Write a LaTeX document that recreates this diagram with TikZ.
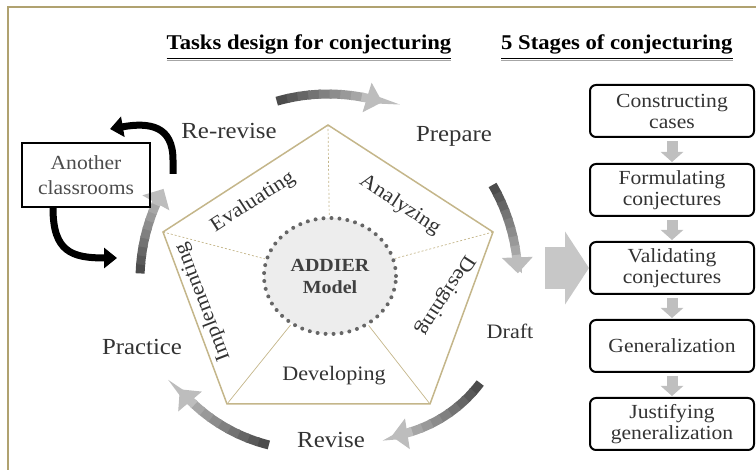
\documentclass[tikz,border=0pt]{standalone}
\usepackage{fontspec}
\setmainfont{Liberation Serif}[FakeStretch=1.08]
\usetikzlibrary{arrows.meta,shapes.geometric}
\definecolor{pentline}{RGB}{196,182,138}
\definecolor{frameline}{RGB}{176,162,112}

% grey cycle arrow, dark at the tail and light at the head
% #1 centre, #2 radius, #3 start angle, #4 end angle
\newcommand{\cyclearrow}[4]{%
  \foreach \k in {0,...,7}{
    \pgfmathsetmacro{\angA}{#3+(#4-#3)*\k/10}
    \pgfmathsetmacro{\angB}{#3+(#4-#3)*(\k+1.2)/10}
    \pgfmathtruncatemacro{\shd}{70-5*\k}
    \draw[cyclearc, black!\shd] (#1) ++(\angA:#2) arc[start angle=\angA, end angle=\angB, radius=#2];
  }
  \pgfmathsetmacro{\angA}{#3+(#4-#3)*0.8}
  \draw[cyclearc, black!26, -{Triangle[width=30pt,length=16pt]}] (#1) ++(\angA:#2) arc[start angle=\angA, end angle=#4, radius=#2];
}

\begin{document}
\begin{tikzpicture}
        [x=1pt,y=-1pt,%%%%%%%%%%%%%%%%%%%%%%%%%%%%%%
        cyclab/.style={text=black!80, font=\fontsize{23}{25}\selectfont},
        sectlab/.style={text=black!80, font=\fontsize{20.5}{22}\selectfont},
        heading/.style={font=\bfseries\fontsize{21}{24}\selectfont, anchor=base, inner sep=0pt},
        stagebox/.style={draw, line width=2pt, rounded corners=6pt, minimum width=164pt,
          minimum height=52pt, align=center, text=black!80, inner sep=1pt,
          font=\fontsize{20}{21}\selectfont},
        classbox/.style={draw, line width=2.2pt, minimum width=128pt, minimum height=64pt,
          align=center, text=black!70, font=\fontsize{20}{25}\selectfont},
        model/.style={ellipse, draw=black!60, fill=black!7, line width=4pt,
          dash pattern=on 0pt off 8pt, line cap=round, minimum width=132pt,
          minimum height=116pt, align=center, text=black!75,
          font=\bfseries\fontsize{18.5}{22}\selectfont},
        spoke/.style={pentline, line width=0.7pt},
        cyclearc/.style={line width=9pt},
        blackarrow/.style={line width=7pt, -{Triangle[width=20pt,length=13pt]}},
        stagearrow/.style={black!25, line width=11pt, -{Triangle[width=22pt,length=10pt]},
          shorten <=3pt, shorten >=1pt},
        bigarrow/.style={black!22, line width=42pt, -{Triangle[width=72pt,length=24pt]}},
        ]%%%%%%%%%%%%%%%%%%%%%%%%%%%%%%
        \useasboundingbox (0,0) rectangle (756,470);
        \draw[frameline, line width=1.5pt] (8,470) -- (8,7) -- (756,7);
        % Titles
        \node[heading] (tasktitle) at (309,50) {Tasks design for conjecturing};
        \node[heading, anchor=base west] (stagetitle) at (501,50) {5 Stages of conjecturing};
        \foreach \t in {tasktitle,stagetitle}{
          \draw[black!35, line width=1.5pt] ([yshift=-10.5pt]\t.base west) -- ([yshift=-10.5pt]\t.base east);
          \draw[line width=1.2pt] ([yshift=-8.5pt]\t.base west) -- ([yshift=-8.5pt]\t.base east);
        }
        % Pentagon
        \coordinate (ptop) at (328,125);
        \coordinate (pleft) at (163,232);
        \coordinate (pright) at (493,232);
        \coordinate (pbl) at (227,404);
        \coordinate (pbr) at (430,404);
        \draw[pentline, line width=1.5pt] (ptop) -- (pright) -- (pbr) -- (pbl) -- (pleft) -- cycle;
        \node[model] (addier) at (330,276) {ADDIER\\Model};
        \draw[spoke, dash pattern=on 2pt off 2pt] (ptop) -- (addier);
        \draw[spoke, dash pattern=on 2pt off 2pt] (pleft) -- (addier);
        \draw[spoke, dash pattern=on 2pt off 2pt] (pright) -- (addier);
        \draw[spoke] (pbl) -- (addier);
        \draw[spoke] (pbr) -- (addier);
        % Parts of the model
        \node[sectlab, rotate=33] (evallab) at (253,202) {Evaluating};
        \node[sectlab, rotate=-33] (analab) at (400,205) {Analyzing};
        \node[sectlab, rotate=-123] (desilab) at (445,295) {Designing};
        \node[sectlab] (devlab) at (334,376) {Developing};
        \node[sectlab, rotate=111] (impllab) at (203,302) {Implementing};
        % Cycle
        \cyclearrow{328,280}{186}{-106}{-73}
        \cyclearrow{328,280}{190}{-30}{-2}
        \cyclearrow{370,300}{138}{37}{81}
        \cyclearrow{310,280}{170}{104}{140}
        \cyclearrow{328,280}{188}{182}{209}
        \node[cyclab] (rerevise) at (229,131) {Re-revise};
        \node[cyclab] (prepare) at (454,136) {Prepare};
        \node[cyclab, font=\fontsize{20.5}{22}\selectfont] (draft) at (510,331) {Draft};
        \node[cyclab] (revise) at (331,440) {Revise};
        \node[cyclab] (practice) at (142,347) {Practice};
        % Another classrooms
        \node[classbox] (another) at (86,175) {Another\\classrooms};
        \coordinate (blkstart) at (173,174);
        \coordinate (blkend) at (110,129);
        \coordinate (blkto) at (117,258);
        \draw[blackarrow] (blkstart) -- (173,160) .. controls (173,126) and (150,122) .. (blkend);
        \draw[blackarrow] ([xshift=-33pt]another.south) .. controls (53,252) and (72,258) .. (blkto);
        % Stages
        \node[stagebox] (cases) at (672,111) {Constructing\\cases};
        \node[stagebox] (formul) at (672,190) {Formulating\\conjectures};
        \node[stagebox] (valid) at (672,268) {Validating\\conjectures};
        \node[stagebox] (general) at (672,346) {Generalization};
        \node[stagebox] (justify) at (672,424) {Justifying\\generalization};
        \draw[stagearrow] (cases) -- (formul);
        \draw[stagearrow] (formul) -- (valid);
        \draw[stagearrow] (valid) -- (general);
        \draw[stagearrow] (general) -- (justify);
        \coordinate (bigtail) at (545,268);
        \draw[bigarrow] (bigtail) -- (valid.west);
\end{tikzpicture}
\end{document}
